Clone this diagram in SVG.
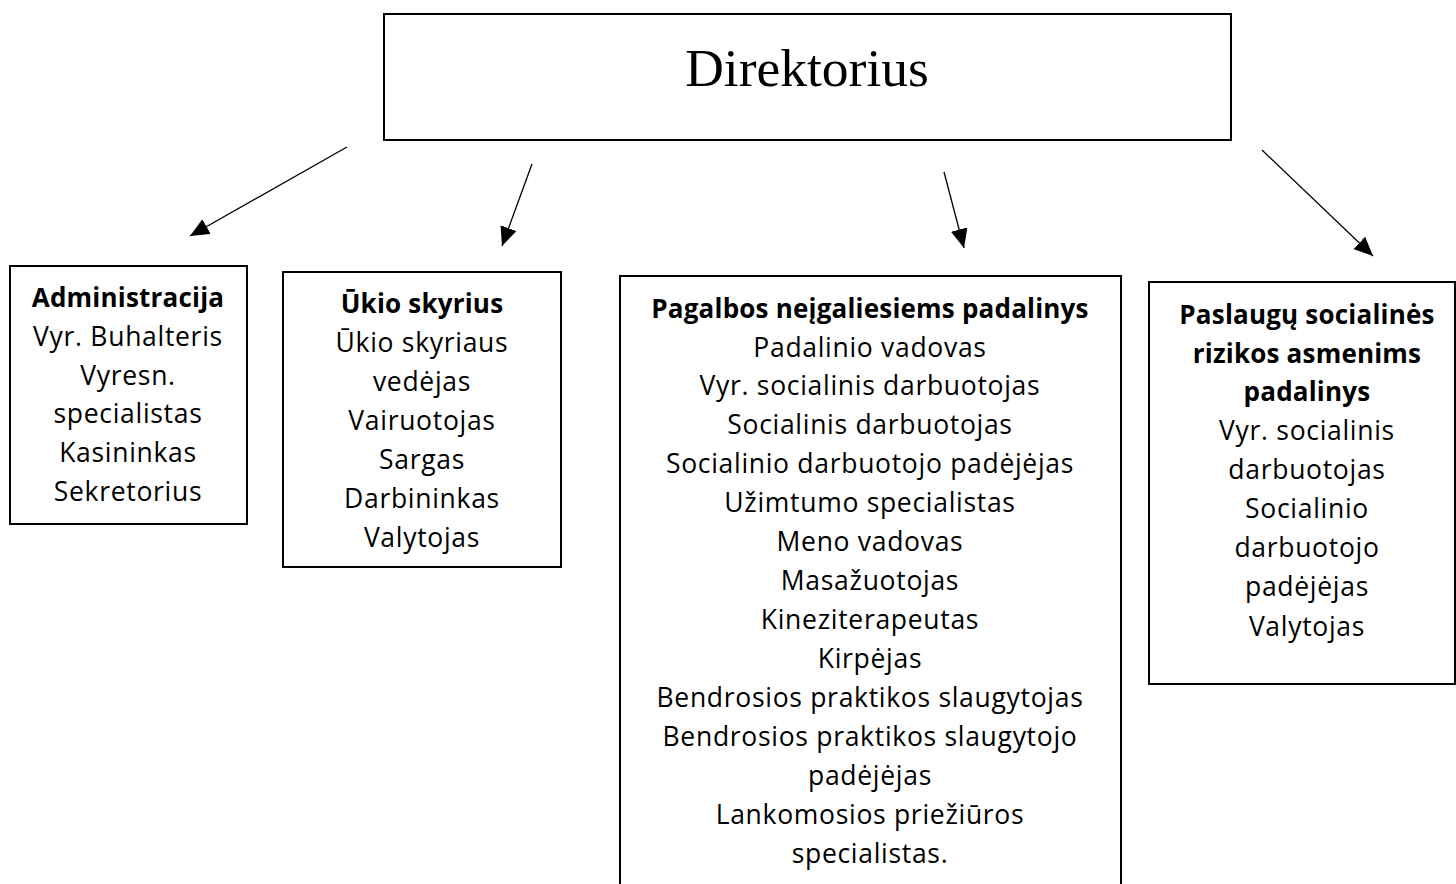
<svg xmlns="http://www.w3.org/2000/svg" width="1456" height="884" viewBox="0 0 1456 884">
<style>
.box{fill:#fff;stroke:#000;stroke-width:2}
.t{font-family:"Open Sans",Lato,"Liberation Sans",sans-serif;font-size:26.5px;letter-spacing:0.7px;fill:#000;text-anchor:middle}
.b{font-weight:bold;font-size:26px;letter-spacing:0.2px}
.dir{font-family:"Liberation Serif",serif;font-size:53.5px;fill:#000;text-anchor:middle}
.c{stroke:#000;stroke-width:1.3;fill:none;marker-end:url(#ah)}
</style>
<defs>
<marker id="ah" viewBox="0 0 10 10" refX="10" refY="5" markerWidth="19" markerHeight="17" markerUnits="userSpaceOnUse" orient="auto" preserveAspectRatio="none">
<path d="M0,0 L10,5 L0,10 z" fill="#000"/>
</marker>
</defs>
<rect width="1456" height="884" fill="#fff"/>
<g id="direktorius">
<rect class="box" x="384" y="14" width="847" height="126"/>
<text class="dir" x="807" y="86">Direktorius</text>
</g>
<g id="connectors">
<line class="c" x1="347" y1="147" x2="190" y2="236"/>
<line class="c" x1="532" y1="164" x2="502" y2="246"/>
<line class="c" x1="944" y1="172" x2="964" y2="248"/>
<line class="c" x1="1262" y1="150" x2="1373" y2="256"/>
</g>
<g id="administracija">
<rect class="box" x="10" y="266" width="237" height="258"/>
<text class="t b" x="128" y="307">Administracija</text>
<text class="t" x="128" y="346">Vyr. Buhalteris</text>
<text class="t" x="128" y="385">Vyresn.</text>
<text class="t" x="128" y="423">specialistas</text>
<text class="t" x="128" y="462">Kasininkas</text>
<text class="t" x="128" y="501">Sekretorius</text>
</g>
<g id="ukio">
<rect class="box" x="283" y="272" width="278" height="295"/>
<text class="t b" x="422" y="313">Ūkio skyrius</text>
<text class="t" x="422" y="352">Ūkio skyriaus</text>
<text class="t" x="422" y="391">vedėjas</text>
<text class="t" x="422" y="430">Vairuotojas</text>
<text class="t" x="422" y="469">Sargas</text>
<text class="t" x="422" y="508">Darbininkas</text>
<text class="t" x="422" y="547">Valytojas</text>
</g>
<g id="pagalbos">
<rect class="box" x="620" y="276" width="501" height="620"/>
<text class="t b" x="870" y="318">Pagalbos neįgaliesiems padalinys</text>
<text class="t" x="870" y="357">Padalinio vadovas</text>
<text class="t" x="870" y="395">Vyr. socialinis darbuotojas</text>
<text class="t" x="870" y="434">Socialinis darbuotojas</text>
<text class="t" x="870" y="473">Socialinio darbuotojo padėjėjas</text>
<text class="t" x="870" y="512">Užimtumo specialistas</text>
<text class="t" x="870" y="551">Meno vadovas</text>
<text class="t" x="870" y="590">Masažuotojas</text>
<text class="t" x="870" y="629">Kineziterapeutas</text>
<text class="t" x="870" y="668">Kirpėjas</text>
<text class="t" x="870" y="707">Bendrosios praktikos slaugytojas</text>
<text class="t" x="870" y="746">Bendrosios praktikos slaugytojo</text>
<text class="t" x="870" y="785">padėjėjas</text>
<text class="t" x="870" y="824">Lankomosios priežiūros</text>
<text class="t" x="870" y="863">specialistas.</text>
</g>
<g id="paslaugu">
<rect class="box" x="1149" y="282" width="306" height="402"/>
<text class="t b" x="1307" y="324">Paslaugų socialinės</text>
<text class="t b" x="1307" y="363">rizikos asmenims</text>
<text class="t b" x="1307" y="401">padalinys</text>
<text class="t" x="1307" y="440">Vyr. socialinis</text>
<text class="t" x="1307" y="479">darbuotojas</text>
<text class="t" x="1307" y="518">Socialinio</text>
<text class="t" x="1307" y="557">darbuotojo</text>
<text class="t" x="1307" y="596">padėjėjas</text>
<text class="t" x="1307" y="636">Valytojas</text>
</g>
</svg>
